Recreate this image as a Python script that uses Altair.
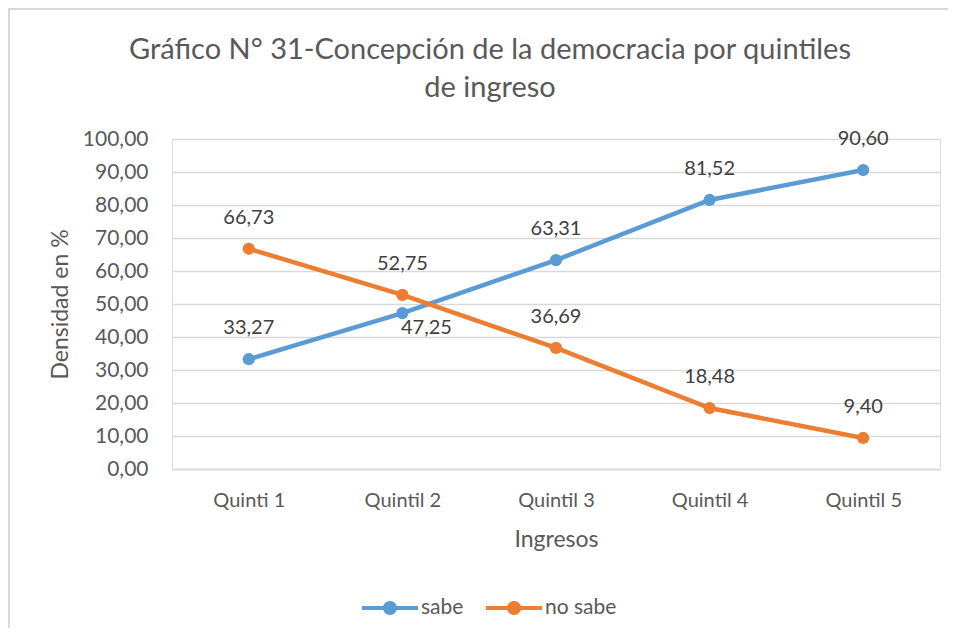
import altair as alt
import pandas as pd

quintiles = ["Quinti 1", "Quintil 2", "Quintil 3", "Quintil 4", "Quintil 5"]
sabe = [33.27, 47.25, 63.31, 81.52, 90.60]
no_sabe = [66.73, 52.75, 36.69, 18.48, 9.40]
series = ["sabe", "no sabe"]
colors = ["#5B9BD5", "#ED7D31"]
y_ticks = [0, 10, 20, 30, 40, 50, 60, 70, 80, 90, 100]
title_line1 = "Gráfico N° 31-Concepción de la democracia por quintiles"
title_line2 = "de ingreso"

rows = []
for s, vals in zip(series, [sabe, no_sabe]):
    for q, v in zip(quintiles, vals):
        rows.append({"q": q, "serie": s, "v": v})
df = pd.DataFrame(rows)

FONT = "Lato"
GRAY = "#595959"
W, H = 768, 330

legend_path = ("M-1,-0.075 H1 V0.075 H-1 Z "
               "M0.25,0 A0.25,0.25 0 1 1 -0.25,0 A0.25,0.25 0 1 1 0.25,0 Z")

x_enc = alt.X("q:N", sort=quintiles, scale=alt.Scale(paddingInner=0, paddingOuter=0, domain=quintiles),
              axis=alt.Axis(title="Ingresos", labelAngle=0, ticks=False, domain=True,
                            domainColor="#D9D9D9", domainWidth=1.5,
                            labelFont=FONT, labelFontSize=20, labelColor=GRAY, labelPadding=31,
                            labelBaseline="middle",
                            titleFont=FONT, titleFontSize=23, titleColor=GRAY, titleFontWeight="normal",
                            titleY=70, titleBaseline="middle", grid=False))
y_enc = alt.Y("v:Q", scale=alt.Scale(domain=[0, 100], nice=False),
              axis=alt.Axis(title="Densidad en %", values=y_ticks,
                            labelExpr="replace(format(datum.value, '.2f'), '.', ',')",
                            ticks=False, domain=False, grid=True, gridColor="#D9D9D9", gridWidth=1.5,
                            labelFont=FONT, labelFontSize=21, labelColor=GRAY, labelPadding=24,
                            titleFont=FONT, titleFontSize=23, titleColor=GRAY, titleFontWeight="normal",
                            titleX=-112, titleY=H / 2, titleAlign="center", titleBaseline="middle",
                            titleAngle=270))
color_scale = alt.Scale(domain=series, range=colors)
legend = alt.Legend(title=None, orient="none", direction="horizontal",
                    legendX=190, legendY=441,
                    symbolType=legend_path, symbolSize=3136,
                    symbolStrokeWidth=0, symbolOpacity=1,
                    labelFont=FONT, labelFontSize=21, labelColor=GRAY,
                    labelOffset=3, columnPadding=22)

base = alt.Chart(df)

one = pd.DataFrame({"a": [0]})
border = alt.Chart(one).mark_rect(
    fill=None, stroke="#D9D9D9", strokeWidth=2
).encode(x=alt.value(-163), x2=alt.value(900), y=alt.value(-130), y2=alt.value(700))

title1 = alt.Chart(one).mark_text(
    font=FONT, fontSize=29, color=GRAY, baseline="middle", align="center", text=title_line1
).encode(x=alt.value(318), y=alt.value(-89))
title2 = alt.Chart(one).mark_text(
    font=FONT, fontSize=29, color=GRAY, baseline="middle", align="center", text=title_line2
).encode(x=alt.value(318), y=alt.value(-51))

lines = base.mark_line(strokeWidth=4.5).encode(
    x=x_enc, y=y_enc,
    color=alt.Color("serie:N", scale=color_scale, legend=legend),
    detail="serie:N",
)

points = base.mark_point(filled=True, size=150, opacity=1).encode(
    x=x_enc, y=y_enc,
    color=alt.Color("serie:N", scale=color_scale, legend=legend),
)

label_expr = "replace(format(datum.v, '.2f'), '.', ',')"
is_below = "datum.serie == 'sabe' && datum.q == 'Quintil 2'"

labels_above = base.transform_filter("!(" + is_below + ")").transform_calculate(
    lab=label_expr
).mark_text(font=FONT, fontSize=20, color="#404040", dy=-31, baseline="middle").encode(
    x=x_enc, y=y_enc, text="lab:N"
)

labels_below = base.transform_filter(is_below).transform_calculate(
    lab=label_expr
).mark_text(font=FONT, fontSize=20, color="#404040", dy=15, dx=24, baseline="middle").encode(
    x=x_enc, y=y_enc, text="lab:N"
)

chart = alt.layer(border, title1, title2, lines, points, labels_above, labels_below).properties(
    width=W, height=H,
    autosize=alt.AutoSizeParams(type="none"),
    padding={"left": 164, "top": 131, "right": 8, "bottom": 159},
).configure_view(stroke=None).configure(background="white")

chart.save("out.html", embed_options={"renderer": "svg", "actions": False})
